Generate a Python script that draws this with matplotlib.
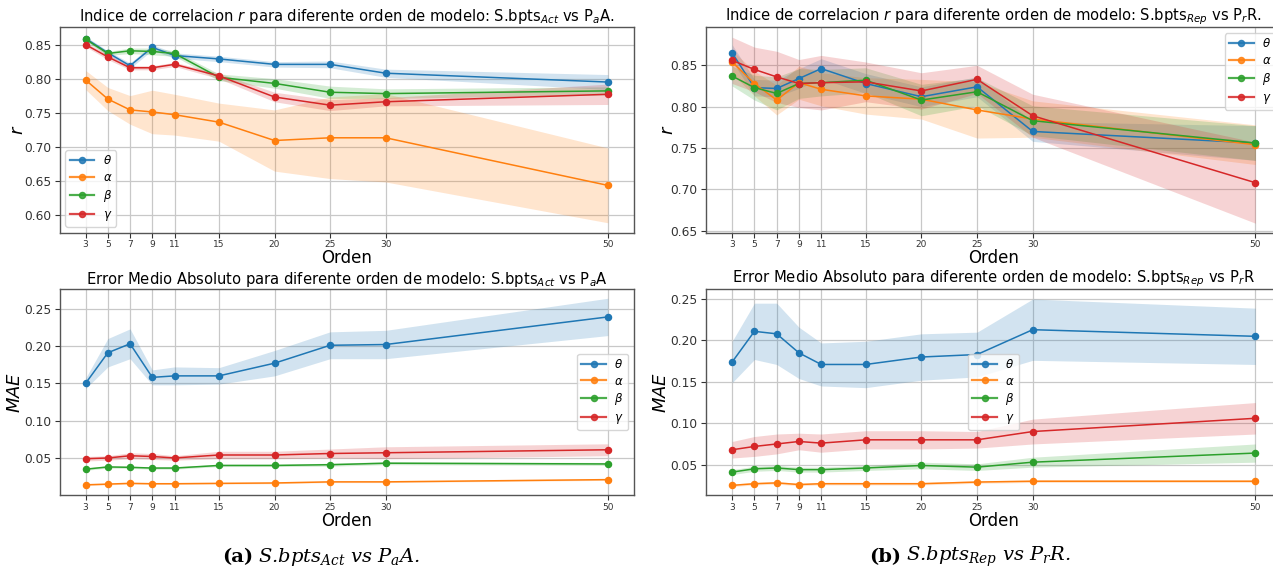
import matplotlib
matplotlib.use("Agg")
import matplotlib.pyplot as plt
from matplotlib.lines import Line2D
import numpy as np

# Model orders evaluated
orders = [3, 5, 7, 9, 11, 15, 20, 25, 30, 50]
series_labels = [r"$\theta$", r"$\alpha$", r"$\beta$", r"$\gamma$"]
series_colors = ["#1f77b4", "#ff7f0e", "#2ca02c", "#d62728"]

# Correlation r, S.bpts_Act vs P_aA (mean and spread)
r_act_theta = [0.860, 0.839, 0.820, 0.847, 0.835, 0.830, 0.822, 0.822, 0.809, 0.796]
r_act_theta_sd = [0.003, 0.003, 0.004, 0.004, 0.004, 0.004, 0.004, 0.005, 0.006, 0.011]
r_act_alpha = [0.799, 0.771, 0.755, 0.752, 0.748, 0.737, 0.710, 0.714, 0.714, 0.644]
r_act_alpha_sd = [0.014, 0.017, 0.021, 0.032, 0.030, 0.028, 0.045, 0.060, 0.065, 0.055]
r_act_beta = [0.859, 0.838, 0.842, 0.841, 0.838, 0.803, 0.794, 0.781, 0.779, 0.783]
r_act_beta_sd = [0.003, 0.003, 0.004, 0.005, 0.004, 0.005, 0.007, 0.009, 0.007, 0.006]
r_act_gamma = [0.851, 0.833, 0.817, 0.817, 0.822, 0.805, 0.774, 0.762, 0.767, 0.778]
r_act_gamma_sd = [0.003, 0.004, 0.003, 0.003, 0.003, 0.004, 0.007, 0.008, 0.006, 0.015]

# Correlation r, S.bpts_Rep vs P_rR
r_rep_theta = [0.865, 0.823, 0.822, 0.834, 0.846, 0.828, 0.812, 0.824, 0.770, 0.756]
r_rep_theta_sd = [0.010, 0.010, 0.010, 0.012, 0.012, 0.012, 0.012, 0.012, 0.012, 0.021]
r_rep_alpha = [0.854, 0.828, 0.808, 0.829, 0.821, 0.813, 0.809, 0.796, 0.785, 0.754]
r_rep_alpha_sd = [0.014, 0.015, 0.018, 0.020, 0.020, 0.022, 0.024, 0.034, 0.022, 0.024]
r_rep_beta = [0.837, 0.823, 0.816, 0.828, 0.829, 0.832, 0.808, 0.818, 0.783, 0.756]
r_rep_beta_sd = [0.012, 0.015, 0.020, 0.018, 0.016, 0.015, 0.019, 0.017, 0.018, 0.021]
r_rep_gamma = [0.856, 0.845, 0.836, 0.828, 0.829, 0.830, 0.819, 0.833, 0.789, 0.708]
r_rep_gamma_sd = [0.028, 0.027, 0.031, 0.029, 0.033, 0.024, 0.022, 0.017, 0.026, 0.049]

# Mean absolute error, S.bpts_Act vs P_aA
mae_act_theta = [0.150, 0.191, 0.203, 0.158, 0.160, 0.160, 0.177, 0.201, 0.202, 0.239]
mae_act_theta_sd = [0.007, 0.019, 0.020, 0.010, 0.012, 0.011, 0.017, 0.018, 0.019, 0.025]
mae_act_alpha = [0.014, 0.015, 0.016, 0.0155, 0.0155, 0.016, 0.0165, 0.018, 0.018, 0.021]
mae_act_alpha_sd = [0.001, 0.001, 0.001, 0.001, 0.001, 0.001, 0.001, 0.001, 0.001, 0.001]
mae_act_beta = [0.035, 0.038, 0.0375, 0.0365, 0.0365, 0.040, 0.040, 0.041, 0.043, 0.042]
mae_act_beta_sd = [0.0015, 0.0015, 0.0015, 0.0015, 0.0015, 0.0015, 0.0015, 0.002, 0.002, 0.002]
mae_act_gamma = [0.049, 0.050, 0.053, 0.052, 0.050, 0.054, 0.054, 0.056, 0.057, 0.061]
mae_act_gamma_sd = [0.003, 0.003, 0.004, 0.004, 0.003, 0.005, 0.005, 0.006, 0.008, 0.008]

# Mean absolute error, S.bpts_Rep vs P_rR
mae_rep_theta = [0.174, 0.211, 0.208, 0.185, 0.171, 0.171, 0.180, 0.183, 0.213, 0.205]
mae_rep_theta_sd = [0.025, 0.034, 0.037, 0.031, 0.026, 0.028, 0.028, 0.027, 0.037, 0.034]
mae_rep_alpha = [0.025, 0.027, 0.028, 0.026, 0.027, 0.027, 0.027, 0.029, 0.030, 0.030]
mae_rep_alpha_sd = [0.0015] * 10
mae_rep_beta = [0.041, 0.045, 0.046, 0.044, 0.044, 0.046, 0.049, 0.047, 0.053, 0.064]
mae_rep_beta_sd = [0.003, 0.003, 0.003, 0.003, 0.003, 0.003, 0.004, 0.004, 0.006, 0.011]
mae_rep_gamma = [0.068, 0.072, 0.075, 0.078, 0.076, 0.080, 0.080, 0.080, 0.090, 0.106]
mae_rep_gamma_sd = [0.010, 0.012, 0.012, 0.010, 0.011, 0.011, 0.011, 0.010, 0.015, 0.019]

W, H = 1273, 573
fig = plt.figure(figsize=(W / 100, H / 100), dpi=100)
fig.patch.set_facecolor("white")


def px_axes(x0, x1, y0, y1):
    """Axes placed by pixel edges (y measured from the top)."""
    return fig.add_axes([x0 / W, (H - y1) / H, (x1 - x0) / W, (y1 - y0) / H])


def draw_panel(ax, means, spreads, title, ylabel, ylim, yticks, legend_loc, ylabel_x):
    x = np.array(orders)
    for m, s, c in zip(means, spreads, series_colors):
        m = np.array(m)
        s = np.array(s)
        ax.fill_between(x, m - s, m + s, color=c, alpha=0.2, linewidth=0)
        ax.plot(x, m, color=c, lw=1.1, marker="o", ms=4.4)
    ax.set_xlim(0.65, 52.35)
    ax.set_ylim(*ylim)
    ax.set_xticks(orders)
    ax.set_xticklabels([str(o) for o in orders], fontsize=6.5)
    ax.set_yticks(yticks)
    ax.set_yticklabels([f"{t:.2f}" for t in yticks], fontsize=8.8)
    ax.grid(True, color="#c8c8c8", lw=0.9)
    ax.set_axisbelow(True)
    for sp in ax.spines.values():
        sp.set_color("#555555")
        sp.set_linewidth(1.0)
    ax.tick_params(colors="#333333", length=3.5)
    ax.tick_params(axis="x", pad=2)
    ax.tick_params(axis="y", pad=2.5)
    ax.set_title(title, fontsize=10.6, pad=2.5)
    ax.set_xlabel("Orden", fontsize=12, labelpad=0)
    ax.set_ylabel(ylabel, fontsize=13)
    ax.yaxis.set_label_coords(ylabel_x, 0.5)
    handles = [Line2D([], [], color=c, lw=1.6, marker="o", ms=4.4, alpha=0.85)
               for c in series_colors]
    ax.legend(handles, series_labels, loc=legend_loc, fontsize=8.5,
              framealpha=0.8, edgecolor="#cccccc", handlelength=2.1,
              labelspacing=0.32, borderpad=0.35, handletextpad=0.7)


ax_tl = px_axes(59.5, 634, 26.5, 232.7)
draw_panel(ax_tl,
           [r_act_theta, r_act_alpha, r_act_beta, r_act_gamma],
           [r_act_theta_sd, r_act_alpha_sd, r_act_beta_sd, r_act_gamma_sd],
           r"Indice de correlacion $r$ para diferente orden de modelo: S.bpts$_{Act}$ vs P$_a$A.",
           r"$r$", (0.5744, 0.8777), [0.60, 0.65, 0.70, 0.75, 0.80, 0.85],
           "lower left", -0.056)

ax_bl = px_axes(59.5, 634, 288.7, 495.3)
draw_panel(ax_bl,
           [mae_act_theta, mae_act_alpha, mae_act_beta, mae_act_gamma],
           [mae_act_theta_sd, mae_act_alpha_sd, mae_act_beta_sd, mae_act_gamma_sd],
           r"Error Medio Absoluto para diferente orden de modelo: S.bpts$_{Act}$ vs P$_a$A",
           r"$MAE$", (0.0, 0.2768), [0.05, 0.10, 0.15, 0.20, 0.25],
           "center right", -0.061)

ax_tr = px_axes(706, 1281.5, 27.3, 232.7)
draw_panel(ax_tr,
           [r_rep_theta, r_rep_alpha, r_rep_beta, r_rep_gamma],
           [r_rep_theta_sd, r_rep_alpha_sd, r_rep_beta_sd, r_rep_gamma_sd],
           r"Indice de correlacion $r$ para diferente orden de modelo: S.bpts$_{Rep}$ vs P$_r$R.",
           r"$r$", (0.6475, 0.896), [0.65, 0.70, 0.75, 0.80, 0.85],
           "upper right", -0.050)

ax_br = px_axes(706, 1281.5, 288.7, 495.3)
draw_panel(ax_br,
           [mae_rep_theta, mae_rep_alpha, mae_rep_beta, mae_rep_gamma],
           [mae_rep_theta_sd, mae_rep_alpha_sd, mae_rep_beta_sd, mae_rep_gamma_sd],
           r"Error Medio Absoluto para diferente orden de modelo: S.bpts$_{Rep}$ vs P$_r$R",
           r"$MAE$", (0.013, 0.2625), [0.05, 0.10, 0.15, 0.20, 0.25],
           "center", -0.062)

# Sub-figure captions: bold tag followed by italic description
cap_y = 1 - 557 / H
for tag, desc, x_split in [("(a)", r"S.bpts$_{Act}$ vs P$_a$A.", 253),
                           ("(b)", r"S.bpts$_{Rep}$ vs P$_r$R.", 901)]:
    fig.text(x_split / W, cap_y, tag, ha="right", va="center", fontsize=14,
             fontweight="bold", family="DejaVu Serif")
    fig.text((x_split + 5) / W, cap_y, desc, ha="left", va="center", fontsize=14,
             fontstyle="italic", family="DejaVu Serif",
             math_fontfamily="dejavuserif")

fig.savefig("out.png", dpi=100)
